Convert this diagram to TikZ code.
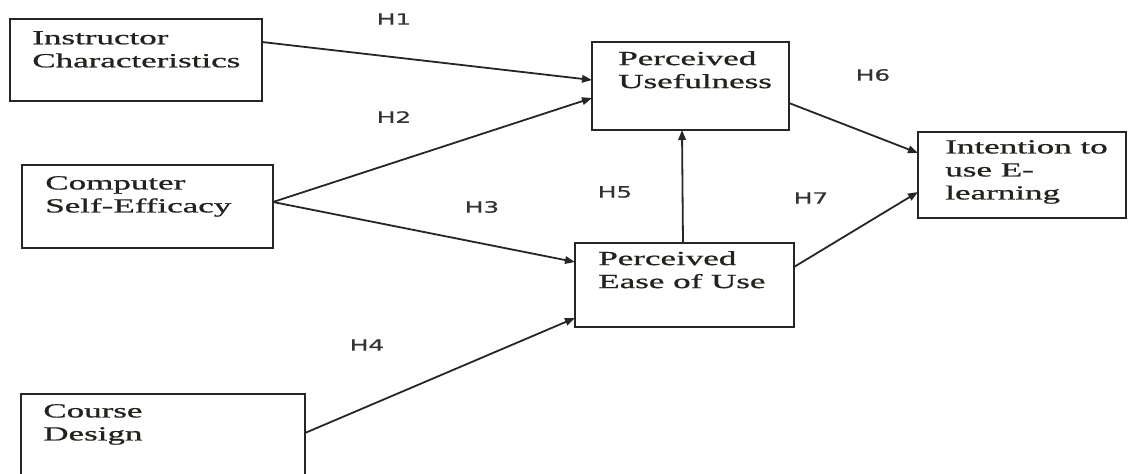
\documentclass[tikz,border=0pt]{standalone}
\usepackage{fontspec}
\setmainfont{Liberation Serif}
\newfontfamily\boxfont{Liberation Serif}[FakeBold=0.7]
\newfontfamily\hypfont{DejaVu Sans}[FakeBold=0.4]
\usetikzlibrary{arrows.meta}
\definecolor{linegray}{HTML}{262626}
\definecolor{textgray}{HTML}{24221E}
\definecolor{hypgray}{HTML}{333333}
\begin{document}
\begin{tikzpicture}[x=1pt,y=-1pt,
  box/.style={draw=linegray, line width=2pt, inner sep=0pt, outer sep=0pt},
  boxtext/.style={anchor=north west, inner sep=0pt, align=left,
    font=\boxfont\fontsize{20}{23}\selectfont, xscale=1.75, text=textgray},
  hyp/.style={inner sep=0pt, font=\hypfont\fontsize{15.5}{18}\selectfont,
    xscale=1.6, text=hypgray},
  arr/.style={draw=linegray, line width=1.8pt,
    -{Triangle[length=10pt,width=7.5pt]}}]

% canvas
\fill[white] (0,0) rectangle (1128,474);
\useasboundingbox (0,0) rectangle (1128,474);

% constructs
\node[box, minimum width=252pt, minimum height=82pt] (ic)   at (136,60)    {};
\node[box, minimum width=251pt, minimum height=83pt] (cse)  at (147.5,206.5) {};
\node[box, minimum width=284pt, minimum height=96pt] (cd)   at (163,442)   {};
\node[box, minimum width=197pt, minimum height=88pt] (pu)   at (690.5,86)  {};
\node[box, minimum width=219pt, minimum height=84pt] (peou) at (684.5,285) {};
\node[box, minimum width=208pt, minimum height=86pt] (itu)  at (1022,175)  {};

% construct names
\node[boxtext] (ic-t)   at ([shift={(22pt,-12pt)}]ic.north west)   {Instructor\\Characteristics};
\node[boxtext] (cse-t)  at ([shift={(23pt,-11pt)}]cse.north west)  {Computer\\Self-Efficacy};
\node[boxtext] (cd-t)   at ([shift={(22pt,-10pt)}]cd.north west)   {Course\\Design};
\node[boxtext] (pu-t)   at ([shift={(26pt,-9pt)}]pu.north west)    {Perceived\\Usefulness};
\node[boxtext] (peou-t) at ([shift={(23pt,-8pt)}]peou.north west)  {Perceived\\Ease of Use};
\node[boxtext] (itu-t)  at ([shift={(27pt,-8pt)}]itu.north west)   {Intention to\\use E-\\learning};

% hypothesised paths
\draw[arr] ([yshift=18pt]ic.east)   -- ([yshift=6pt]pu.west);
\draw[arr] ([yshift=4.5pt]cse.east) -- ([yshift=-12pt]pu.west);
\draw[arr] ([yshift=4.5pt]cse.east) -- ([yshift=23pt]peou.west);
\draw[arr] ([yshift=9pt]cd.east)    -- ([yshift=-33pt]peou.west);
\draw[arr] ([xshift=-1.5pt]peou.north) -- ([xshift=-8.5pt]pu.south);
\draw[arr] ([yshift=-17pt]pu.east)  -- ([yshift=22pt]itu.west);
\draw[arr] ([yshift=18pt]peou.east) -- ([yshift=-17pt]itu.west);

% hypothesis labels
\node[hyp] (h1) at (394,19)  {H1};
\node[hyp] (h2) at (394,117) {H2};
\node[hyp] (h3) at (482,207) {H3};
\node[hyp] (h4) at (367,345) {H4};
\node[hyp] (h5) at (615,192) {H5};
\node[hyp] (h6) at (873,75)  {H6};
\node[hyp] (h7) at (811,198) {H7};
\end{tikzpicture}
\end{document}
